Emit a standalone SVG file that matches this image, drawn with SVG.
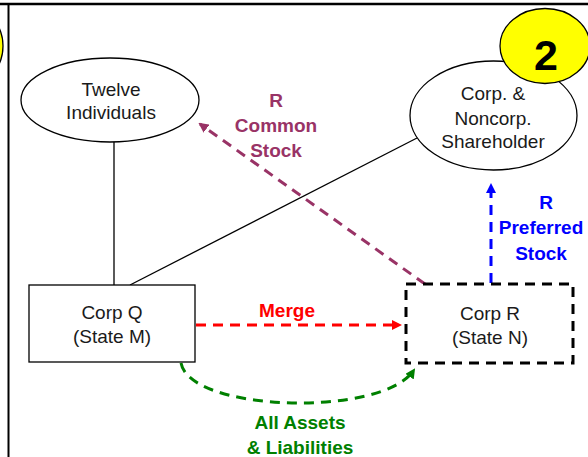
<svg xmlns="http://www.w3.org/2000/svg" width="588" height="457" viewBox="0 0 588 457">
  <style>
    .node { fill: #ffffff; stroke: #000000; stroke-width: 1.3; }
    .txt { font-family: "Liberation Sans", Arial, sans-serif; font-size: 19px; fill: #1a1a1a; text-anchor: middle; }
    .lbl { font-family: "Liberation Sans", Arial, sans-serif; font-size: 19px; font-weight: bold; text-anchor: middle; }
    .link { fill: none; stroke: #000000; stroke-width: 1.3; }
    .dash { fill: none; stroke-width: 3; stroke-dasharray: 10 7; }
  </style>
  <defs>
    <marker id="ahRed" markerWidth="10" markerHeight="10" refX="8" refY="5" orient="auto" markerUnits="userSpaceOnUse">
      <path d="M0,0 L10,5 L0,10 Z" fill="#ff0000"/>
    </marker>
    <marker id="ahBlue" markerWidth="10" markerHeight="10" refX="8" refY="5" orient="auto" markerUnits="userSpaceOnUse">
      <path d="M0,0 L10,5 L0,10 Z" fill="#0000ff"/>
    </marker>
    <marker id="ahPurple" markerWidth="10" markerHeight="10" refX="8" refY="5" orient="auto" markerUnits="userSpaceOnUse">
      <path d="M0,0 L10,5 L0,10 Z" fill="#993366"/>
    </marker>
    <marker id="ahGreen" markerWidth="10" markerHeight="10" refX="8" refY="5" orient="auto" markerUnits="userSpaceOnUse">
      <path d="M0,0 L10,5 L0,10 Z" fill="#008000"/>
    </marker>
  </defs>

  <rect x="0" y="0" width="588" height="457" fill="#ffffff"/>

  <!-- frame lines -->
  <line x1="0" y1="4" x2="588" y2="4" stroke="#000" stroke-width="2.5"/>
  <line x1="8.5" y1="3" x2="8.5" y2="457" stroke="#000" stroke-width="2"/>

  <!-- neighbouring badge, cut at the edge -->
  <circle cx="-40" cy="46" r="43" fill="#ffff00" stroke="#000" stroke-width="1.3"/>

  <g id="connectors">
    <line class="link" x1="114" y1="142" x2="114" y2="285"/>
    <line class="link" x1="130" y1="285" x2="417" y2="138"/>
    <line class="dash" stroke="#ff0000" x1="196" y1="325" x2="400" y2="325" marker-end="url(#ahRed)"/>
    <line class="dash" stroke="#0000ff" x1="491" y1="283" x2="491" y2="185" marker-end="url(#ahBlue)"/>
    <line class="dash" stroke="#993366" x1="425" y1="284" x2="200" y2="124" marker-end="url(#ahPurple)"/>
    <path class="dash" stroke="#008000" d="M181,363 C190,412 382,418 414,370" marker-end="url(#ahGreen)"/>
  </g>

  <g id="twelve-individuals">
    <ellipse class="node" cx="110" cy="100" rx="89" ry="42"/>
    <text class="txt" x="111" y="96">Twelve</text>
    <text class="txt" x="111" y="119">Individuals</text>
  </g>

  <g id="shareholder">
    <ellipse class="node" cx="493.5" cy="115.5" rx="83.5" ry="54.5"/>
    <text class="txt" x="493" y="100">Corp. &amp;</text>
    <text class="txt" x="493" y="125">Noncorp.</text>
    <text class="txt" x="493" y="148">Shareholder</text>
  </g>

  <g id="badge-2">
    <ellipse cx="545" cy="46" rx="45" ry="37.5" fill="#ffff00" stroke="#000" stroke-width="1.3"/>
    <text x="546" y="70" font-family="Liberation Sans, Arial, sans-serif" font-size="43" font-weight="bold" text-anchor="middle" fill="#000">2</text>
  </g>

  <g id="corp-q">
    <rect class="node" x="29" y="285" width="166" height="77"/>
    <text class="txt" x="112" y="319">Corp Q</text>
    <text class="txt" x="112" y="343">(State M)</text>
  </g>

  <g id="corp-r">
    <rect x="406" y="284" width="167" height="79" fill="#ffffff" stroke="#000" stroke-width="3" stroke-dasharray="10 7"/>
    <text class="txt" x="490" y="320">Corp R</text>
    <text class="txt" x="490" y="344">(State N)</text>
  </g>

  <g id="labels">
    <text class="lbl" fill="#ff0000" x="287" y="317">Merge</text>
    <text class="lbl" fill="#0000ff" x="546" y="209">R</text>
    <text class="lbl" fill="#0000ff" x="541" y="234">Preferred</text>
    <text class="lbl" fill="#0000ff" x="541" y="260">Stock</text>
    <text class="lbl" fill="#993366" x="276" y="107">R</text>
    <text class="lbl" fill="#993366" x="276" y="132">Common</text>
    <text class="lbl" fill="#993366" x="276" y="157">Stock</text>
    <text class="lbl" fill="#008000" x="300" y="429">All Assets</text>
    <text class="lbl" fill="#008000" x="300" y="454">&amp; Liabilities</text>
  </g>
</svg>
